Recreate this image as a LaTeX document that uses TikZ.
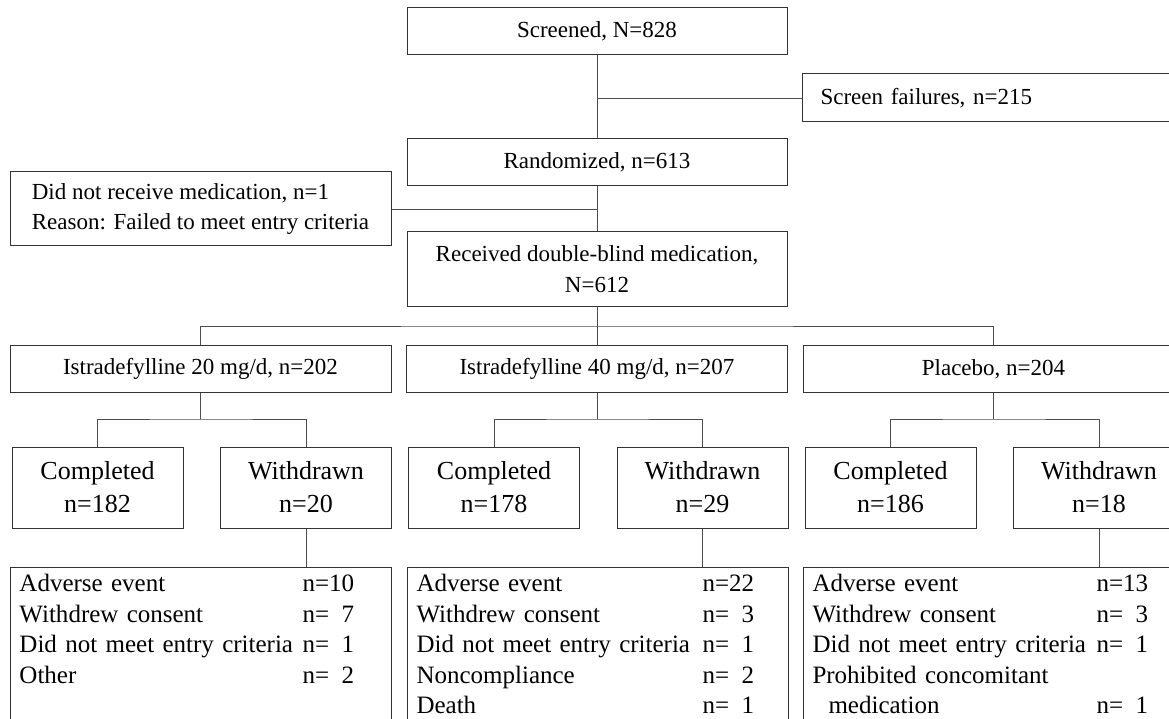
\documentclass[tikz,border=0pt]{standalone}
\usepackage{fontspec}
\setmainfont{Liberation Serif}
\usepackage{array}
\usetikzlibrary{positioning}
\newcolumntype{L}[1]{>{\raggedright\arraybackslash}p{#1}}

\begin{document}
\begin{tikzpicture}[x=1pt, y=-1pt,
  box/.style={draw=black!80, line width=1pt, inner sep=0pt, minimum height=47pt, text=black},
  top/.style={box, minimum width=380pt, align=center, font=\fontsize{23}{31}\selectfont},
  arm/.style={box, minimum width=381pt, font=\fontsize{23}{31}\selectfont},
  sub/.style={box, minimum width=171pt, minimum height=81pt, align=center, font=\fontsize{26}{33}\selectfont},
  why/.style={draw=black!80, line width=1pt, anchor=north west, inner xsep=9pt, inner ysep=3pt,
    text width=363pt, text height=21pt, text depth=200pt, font=\fontsize{25}{30.5}\selectfont},
  link/.style={draw=black!70, line width=0.9pt}]
\clip (0,0) rectangle (1169,719);
\fill[white] (0,0) rectangle (1169,719);

% screening and randomization
\node[top] (scr) at (597,31) {Screened, N=828};
\node[box, anchor=west, text width=345pt, inner xsep=18pt, align=left, minimum height=48pt,
  font=\fontsize{23}{31}\selectfont] (fail) at (802,98) {Screen failures, n=215};
\node[top] (rand) at (597,162.5) {Randomized, n=613};
\node[box, minimum width=381pt, minimum height=74pt, align=left,
  font=\fontsize{23}{30}\selectfont] (drop) at (200.5,209) {Did not receive medication, n=1\\Reason: Failed to meet entry criteria};
\node[top, minimum height=74pt] (recv) at (597,269) {Received double-blind medication,\\N=612};

\draw[link] (scr) -- (rand);
\draw[link] (scr.south |- fail.west) -- (fail);
\draw[link] (rand) -- (recv);
\draw[link] (rand.south |- drop.east) -- (drop);

% treatment arms
\coordinate (split) at (597,326);
\foreach \i/\cx/\txt/\nc/\nw in {1/200.5/{Istradefylline 20 mg/d, n=202}/182/20,
    2/597/{Istradefylline 40 mg/d, n=207}/178/29, 3/993.5/{Placebo, n=204}/186/18}{
  \node[arm] (arm\i) at (\cx,369) {\txt};
  \node[sub] (comp\i) at (\cx-103,487.5) {Completed\\n=\nc};
  \node[sub] (with\i) at (\cx+105.5,487.5) {Withdrawn\\n=\nw};
  \coordinate (fork\i) at (\cx,419);
  \draw[link] (arm\i) -- (fork\i);
  \draw[link] (comp\i.north) |- (fork\i) -| (with\i.north);
}
\draw[link] (recv) -- (split);
\draw[link] (arm1.north) |- (split) -| (arm3.north);
\draw[link] (split) -- (arm2);

% reasons for withdrawal
\node[why] (why1) at (10,567) {\begin{tabular}[t]{@{}L{283pt}@{}l@{}}
Adverse event & n=10\\
Withdrew consent & n=\phantom{0}7\\
Did not meet entry criteria & n=\phantom{0}1\\
Other & n=\phantom{0}2
\end{tabular}};
\node[why] (why2) at (407,567) {\begin{tabular}[t]{@{}L{286pt}@{}l@{}}
Adverse event & n=22\\
Withdrew consent & n=\phantom{0}3\\
Did not meet entry criteria & n=\phantom{0}1\\
Noncompliance & n=\phantom{0}2\\
Death & n=\phantom{0}1
\end{tabular}};
\node[why] (why3) at (803,567) {\begin{tabular}[t]{@{}L{284pt}@{}l@{}}
Adverse event & n=13\\
Withdrew consent & n=\phantom{0}3\\
Did not meet entry criteria & n=\phantom{0}1\\
Prohibited concomitant & \\
\hspace*{16pt}medication & n=\phantom{0}1
\end{tabular}};
\foreach \i in {1,2,3}
  \draw[link] (with\i.south) -- (with\i.south |- why\i.north);
\end{tikzpicture}
\end{document}
